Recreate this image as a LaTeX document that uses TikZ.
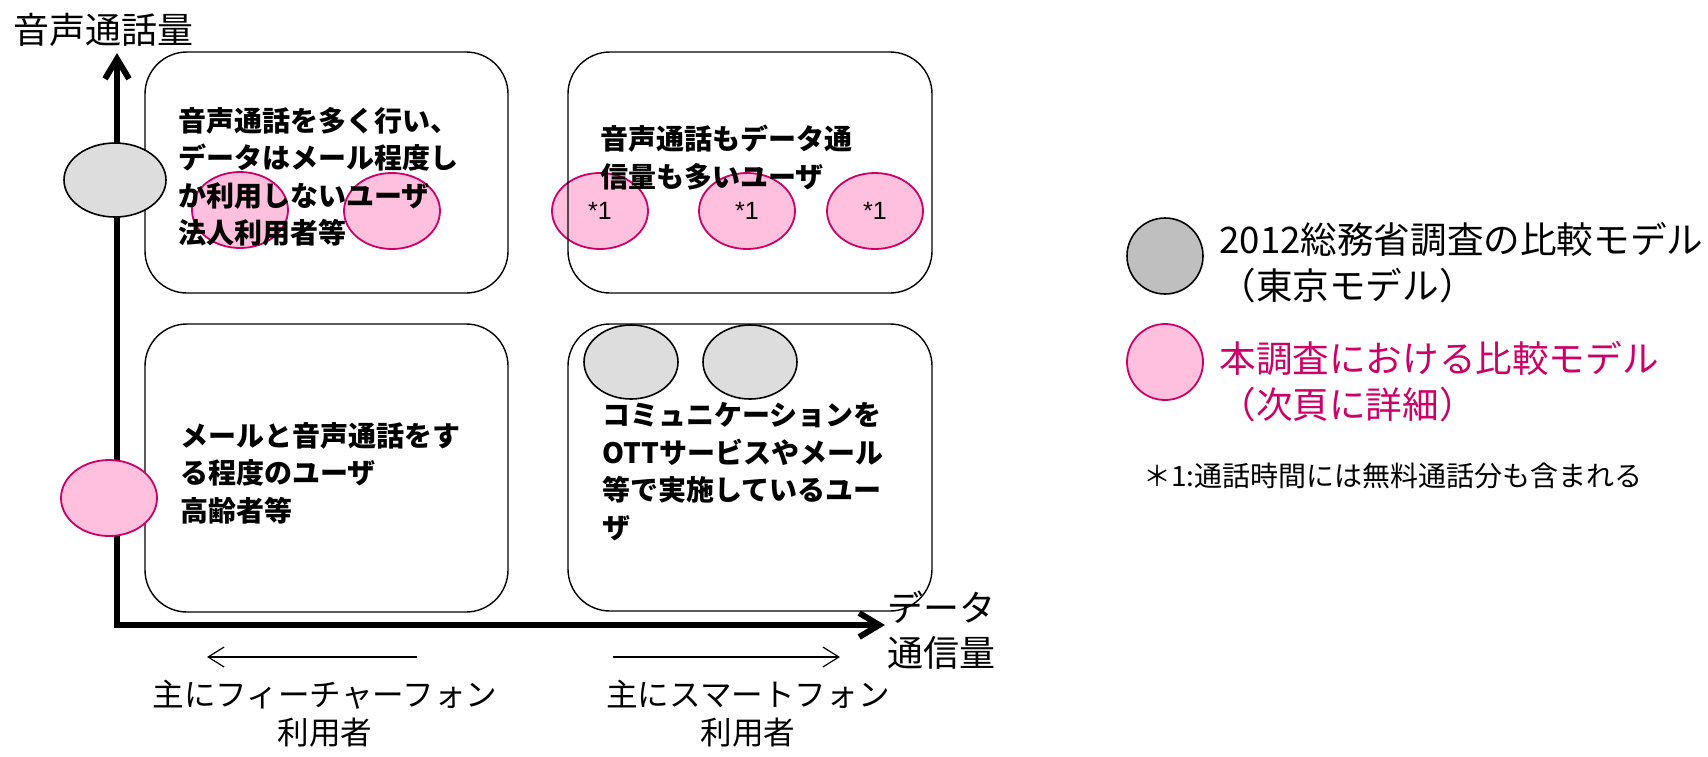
\documentclass[tikz,border=0pt]{standalone}
\usepackage{fontspec}
\setmainfont{Noto Sans CJK JP}
\newfontfamily\latinfont{Liberation Sans}
\usetikzlibrary{
	arrows.meta,
	shapes.geometric,
}
\definecolor{pinkfill}{RGB}{255,192,222}
\definecolor{pinkline}{RGB}{204,0,102}
\definecolor{grayfill}{RGB}{221,221,221}
\definecolor{graykey}{RGB}{191,191,191}

\begin{document}
\begin{tikzpicture}[x=0.5pt, y=-0.5pt,
		quadrant/.style={draw, line width=0.7pt, rounded corners=21pt, inner sep=0pt},
		oldmodel/.style={ellipse, draw, line width=0.8pt, fill=grayfill, minimum width=47pt, minimum height=37pt, inner sep=0pt},
		newmodel/.style={ellipse, draw=pinkline, line width=0.9pt, fill=pinkfill, minimum width=48pt, minimum height=38pt, inner sep=0pt, font=\latinfont\fontsize{12.5}{14}\selectfont},
		usertext/.style={anchor=north west, align=left, inner sep=0pt, font=\bfseries\fontsize{14}{18.75}\selectfont},
		axislabel/.style={anchor=north west, align=left, inner sep=0pt, font=\fontsize{18}{22.5}\selectfont},
		phonelabel/.style={anchor=north, align=center, inner sep=0pt, font=\fontsize{15.8}{19}\selectfont},
		legendtext/.style={anchor=north west, align=left, inner sep=0pt, font=\fontsize{18.3}{23}\selectfont},
		axisline/.style={line width=3pt, line join=miter, {Straight Barb[length=10pt,width=12pt]}-{Straight Barb[length=10pt,width=12pt]}},
		hint/.style={line width=0.6pt, -{Straight Barb[length=8pt,width=10pt]}},
	]
	\useasboundingbox (0,0) rectangle (1708,756);
	\coordinate (O) at (117,625);
	\coordinate (ytop) at (117,53);
	\coordinate (xend) at (885,625);
	\draw[axisline] (ytop) -- (O) -- (xend);
	% models inside the quadrants
	\node[newmodel] (tlA) at (240,210) {};
	\node[newmodel] (tlB) at (392,211) {};
	\node[newmodel] (trA) at (600,211) {*1};
	\node[newmodel] (trB) at (747,211) {*1};
	\node[newmodel] (trC) at (875,211) {*1};
	\node[oldmodel] (brA) at (631,362) {};
	\node[oldmodel] (brB) at (750,362) {};
	% quadrants
	\node[quadrant, minimum width=181.5pt, minimum height=120.5pt] (voiceheavy) at (326.5,172.5) {};
	\node[quadrant, minimum width=182pt, minimum height=120.5pt] (bothheavy) at (750,172.5) {};
	\node[quadrant, minimum width=181.5pt, minimum height=144pt] (light) at (326.5,468) {};
	\node[quadrant, minimum width=182pt, minimum height=143.5pt] (dataheavy) at (750,467.5) {};
	% models on the axis
	\node[oldmodel, minimum width=51pt] (axisold) at (115,180) {};
	\node[newmodel] (axisnew) at (109,498) {};
	\node[usertext] at (178,107) {音声通話を多く行い、\\データはメール程度し\\か利用しないユーザ\\法人利用者等};
	\node[usertext] at (600,125) {音声通話もデータ通\\信量も多いユーザ};
	\node[usertext] at (180,422) {メールと音声通話をす\\る程度のユーザ\\高齢者等};
	\node[usertext] at (602,402) {コミュニケーションを\\OTTサービスやメール\\等で実施しているユー\\ザ};
	\node[axislabel] (ylabel) at (13,13) {音声通話量};
	\node[axislabel] (xlabel) at (887,590) {データ\\通信量};
	% phone types
	\coordinate (fpS) at (417,657);
	\coordinate (fpE) at (207,657);
	\coordinate (spS) at (613,657);
	\coordinate (spE) at (840,657);
	\draw[hint] (fpS) -- (fpE);
	\draw[hint] (spS) -- (spE);
	\node[phonelabel] (fplabel) at (325,680) {主にフィーチャーフォン\\利用者};
	\node[phonelabel] (splabel) at (748,680) {主にスマートフォン\\利用者};
	% legend
	\node[oldmodel, minimum width=38pt, minimum height=38pt, fill=graykey] (oldkey) at (1165,256) {};
	\node[newmodel, minimum width=38pt, minimum height=38pt] (newkey) at (1165,362) {};
	\node[legendtext] (oldtext) at (1219,222) {2012総務省調査の比較モデル\\（東京モデル）};
	\node[legendtext, text=pinkline] (newtext) at (1219,341) {本調査における比較モデル\\（次頁に詳細）};
	\node[anchor=north west, inner sep=0pt, font=\fontsize{14}{16}\selectfont] (note) at (1143,463) {＊1:通話時間には無料通話分も含まれる};
\end{tikzpicture}
\end{document}
